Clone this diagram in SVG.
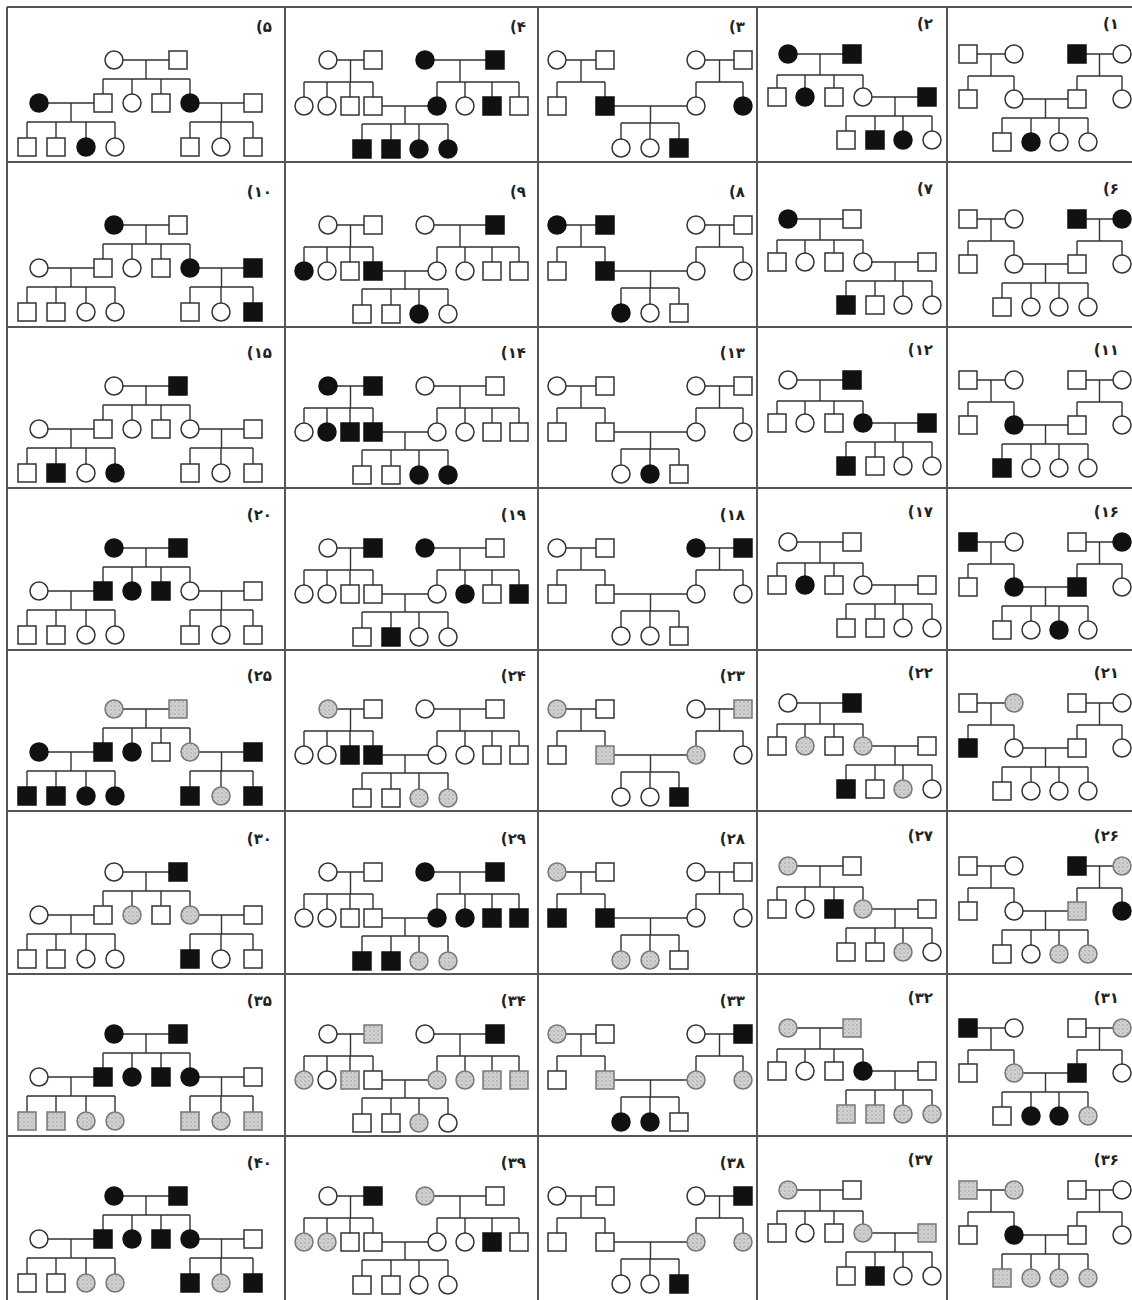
<svg xmlns="http://www.w3.org/2000/svg" width="1132" height="1300" viewBox="0 0 1132 1300">
<style>
.ln{fill:none;stroke:#333;stroke-width:1.4}
.grid{fill:none;stroke:#555;stroke-width:2}
.w{fill:#fff;stroke:#333;stroke-width:1.5}
.b{fill:#111;stroke:#111;stroke-width:1.5}
.g{fill:url(#stip);stroke:#777;stroke-width:1.5}
.lbl{font-family:"DejaVu Sans","Liberation Sans",sans-serif;font-weight:bold;font-size:15px;fill:#222;text-anchor:end}
</style>
<defs>
<pattern id="stip" width="4" height="4" patternUnits="userSpaceOnUse"><rect width="4" height="4" fill="#d2d2d2"/><circle cx="1" cy="1" r="0.7" fill="#8c8c8c"/><circle cx="3" cy="3" r="0.5" fill="#a0a0a0"/></pattern>
<circle id="c" r="9"/>
<rect id="s" x="-9" y="-9" width="18" height="18"/>
<path id="cA" d="M114,-102H178M146,-102V-83M103,-83H190M103,-83V-68M132,-83V-68M161,-83V-68M190,-83V-68M39,-59H103M71,-59V-40M27,-40H115M27,-40V-24M56,-40V-24M86,-40V-24M115,-40V-24M190,-59H253M221.5,-59V-40M190,-40H253M190,-40V-24M221,-40V-24M253,-40V-24"/>
<path id="cB" d="M328,-102H373M350.5,-102V-80M304,-80H373M304,-80V-65M327,-80V-65M350,-80V-65M373,-80V-65M425,-102H495M460,-102V-80M437,-80H519M437,-80V-65M465,-80V-65M492,-80V-65M519,-80V-65M373,-56H437M405,-56V-38M362,-38H448M362,-38V-22M391,-38V-22M419,-38V-22M448,-38V-22"/>
<path id="cC" d="M557,-102H605M581,-102V-80M557,-80H605M557,-80V-65M605,-80V-65M696,-102H743M719.5,-102V-80M696,-80H743M696,-80V-65M743,-80V-65M605,-56H696M650.5,-56V-39M621,-39H679M621,-39V-23M650,-39V-23M679,-39V-23"/>
<path id="cD" d="M788,-108H852M820,-108V-87M777,-87H863M777,-87V-74M805,-87V-74M834,-87V-74M863,-87V-74M863,-65H927M895,-65V-46M846,-46H932M846,-46V-31M875,-46V-31M903,-46V-31M932,-46V-31"/>
<path id="cE" d="M968,-108H1014M991,-108V-86M968,-86H1014M968,-86V-72M1014,-86V-72M1077,-108H1122M1099.5,-108V-86M1077,-86H1122M1077,-86V-72M1122,-86V-72M1014,-63H1077M1045.5,-63V-44M1002,-44H1088M1002,-44V-29M1031,-44V-29M1059,-44V-29M1088,-44V-29"/>
</defs>
<rect width="1132" height="1300" fill="#fff"/>
<g id="grid" class="grid">
<path d="M7,7V1300M285,7V1300M538,7V1300M757,7V1300M947,7V1300"/>
<path d="M7,7H1132M7,162H1132M7,327H1132M7,488H1132M7,650H1132M7,811H1132M7,974H1132M7,1136H1132"/>
</g>
<g id="connectors" class="ln">
<use href="#cA" y="162"/><use href="#cA" y="327"/><use href="#cA" y="488"/><use href="#cA" y="650"/><use href="#cA" y="811"/><use href="#cA" y="974"/><use href="#cA" y="1136"/><use href="#cA" y="1298"/>
<use href="#cB" y="162"/><use href="#cB" y="327"/><use href="#cB" y="488"/><use href="#cB" y="650"/><use href="#cB" y="811"/><use href="#cB" y="974"/><use href="#cB" y="1136"/><use href="#cB" y="1298"/>
<use href="#cC" y="162"/><use href="#cC" y="327"/><use href="#cC" y="488"/><use href="#cC" y="650"/><use href="#cC" y="811"/><use href="#cC" y="974"/><use href="#cC" y="1136"/><use href="#cC" y="1298"/>
<use href="#cD" y="162"/><use href="#cD" y="327"/><use href="#cD" y="488"/><use href="#cD" y="650"/><use href="#cD" y="811"/><use href="#cD" y="974"/><use href="#cD" y="1136"/><use href="#cD" y="1298"/>
<use href="#cE" y="162"/><use href="#cE" y="327"/><use href="#cE" y="488"/><use href="#cE" y="650"/><use href="#cE" y="811"/><use href="#cE" y="974"/><use href="#cE" y="1136"/><use href="#cE" y="1298"/>
</g>

<!-- Column 5: template A -->
<g id="p5" transform="translate(0,162)"><text class="lbl" x="272" y="-130">(۵</text>
<use href="#c" class="w" x="114" y="-102"/><use href="#s" class="w" x="178" y="-102"/>
<use href="#c" class="b" x="39" y="-59"/><use href="#s" class="w" x="103" y="-59"/><use href="#c" class="w" x="132" y="-59"/><use href="#s" class="w" x="161" y="-59"/><use href="#c" class="b" x="190" y="-59"/><use href="#s" class="w" x="253" y="-59"/>
<use href="#s" class="w" x="27" y="-15"/><use href="#s" class="w" x="56" y="-15"/><use href="#c" class="b" x="86" y="-15"/><use href="#c" class="w" x="115" y="-15"/>
<use href="#s" class="w" x="190" y="-15"/><use href="#c" class="w" x="221" y="-15"/><use href="#s" class="w" x="253" y="-15"/></g>

<g id="p10" transform="translate(0,327)"><text class="lbl" x="272" y="-130">(۱۰</text>
<use href="#c" class="b" x="114" y="-102"/><use href="#s" class="w" x="178" y="-102"/>
<use href="#c" class="w" x="39" y="-59"/><use href="#s" class="w" x="103" y="-59"/><use href="#c" class="w" x="132" y="-59"/><use href="#s" class="w" x="161" y="-59"/><use href="#c" class="b" x="190" y="-59"/><use href="#s" class="b" x="253" y="-59"/>
<use href="#s" class="w" x="27" y="-15"/><use href="#s" class="w" x="56" y="-15"/><use href="#c" class="w" x="86" y="-15"/><use href="#c" class="w" x="115" y="-15"/>
<use href="#s" class="w" x="190" y="-15"/><use href="#c" class="w" x="221" y="-15"/><use href="#s" class="b" x="253" y="-15"/></g>

<g id="p15" transform="translate(0,488)"><text class="lbl" x="272" y="-130">(۱۵</text>
<use href="#c" class="w" x="114" y="-102"/><use href="#s" class="b" x="178" y="-102"/>
<use href="#c" class="w" x="39" y="-59"/><use href="#s" class="w" x="103" y="-59"/><use href="#c" class="w" x="132" y="-59"/><use href="#s" class="w" x="161" y="-59"/><use href="#c" class="w" x="190" y="-59"/><use href="#s" class="w" x="253" y="-59"/>
<use href="#s" class="w" x="27" y="-15"/><use href="#s" class="b" x="56" y="-15"/><use href="#c" class="w" x="86" y="-15"/><use href="#c" class="b" x="115" y="-15"/>
<use href="#s" class="w" x="190" y="-15"/><use href="#c" class="w" x="221" y="-15"/><use href="#s" class="w" x="253" y="-15"/></g>

<g id="p20" transform="translate(0,650)"><text class="lbl" x="272" y="-130">(۲۰</text>
<use href="#c" class="b" x="114" y="-102"/><use href="#s" class="b" x="178" y="-102"/>
<use href="#c" class="w" x="39" y="-59"/><use href="#s" class="b" x="103" y="-59"/><use href="#c" class="b" x="132" y="-59"/><use href="#s" class="b" x="161" y="-59"/><use href="#c" class="w" x="190" y="-59"/><use href="#s" class="w" x="253" y="-59"/>
<use href="#s" class="w" x="27" y="-15"/><use href="#s" class="w" x="56" y="-15"/><use href="#c" class="w" x="86" y="-15"/><use href="#c" class="w" x="115" y="-15"/>
<use href="#s" class="w" x="190" y="-15"/><use href="#c" class="w" x="221" y="-15"/><use href="#s" class="w" x="253" y="-15"/></g>

<g id="p25" transform="translate(0,811)"><text class="lbl" x="272" y="-130">(۲۵</text>
<use href="#c" class="g" x="114" y="-102"/><use href="#s" class="g" x="178" y="-102"/>
<use href="#c" class="b" x="39" y="-59"/><use href="#s" class="b" x="103" y="-59"/><use href="#c" class="b" x="132" y="-59"/><use href="#s" class="w" x="161" y="-59"/><use href="#c" class="g" x="190" y="-59"/><use href="#s" class="b" x="253" y="-59"/>
<use href="#s" class="b" x="27" y="-15"/><use href="#s" class="b" x="56" y="-15"/><use href="#c" class="b" x="86" y="-15"/><use href="#c" class="b" x="115" y="-15"/>
<use href="#s" class="b" x="190" y="-15"/><use href="#c" class="g" x="221" y="-15"/><use href="#s" class="b" x="253" y="-15"/></g>

<g id="p30" transform="translate(0,974)"><text class="lbl" x="272" y="-130">(۳۰</text>
<use href="#c" class="w" x="114" y="-102"/><use href="#s" class="b" x="178" y="-102"/>
<use href="#c" class="w" x="39" y="-59"/><use href="#s" class="w" x="103" y="-59"/><use href="#c" class="g" x="132" y="-59"/><use href="#s" class="w" x="161" y="-59"/><use href="#c" class="g" x="190" y="-59"/><use href="#s" class="w" x="253" y="-59"/>
<use href="#s" class="w" x="27" y="-15"/><use href="#s" class="w" x="56" y="-15"/><use href="#c" class="w" x="86" y="-15"/><use href="#c" class="w" x="115" y="-15"/>
<use href="#s" class="b" x="190" y="-15"/><use href="#c" class="w" x="221" y="-15"/><use href="#s" class="w" x="253" y="-15"/></g>

<g id="p35" transform="translate(0,1136)"><text class="lbl" x="272" y="-130">(۳۵</text>
<use href="#c" class="b" x="114" y="-102"/><use href="#s" class="b" x="178" y="-102"/>
<use href="#c" class="w" x="39" y="-59"/><use href="#s" class="b" x="103" y="-59"/><use href="#c" class="b" x="132" y="-59"/><use href="#s" class="b" x="161" y="-59"/><use href="#c" class="b" x="190" y="-59"/><use href="#s" class="w" x="253" y="-59"/>
<use href="#s" class="g" x="27" y="-15"/><use href="#s" class="g" x="56" y="-15"/><use href="#c" class="g" x="86" y="-15"/><use href="#c" class="g" x="115" y="-15"/>
<use href="#s" class="g" x="190" y="-15"/><use href="#c" class="g" x="221" y="-15"/><use href="#s" class="g" x="253" y="-15"/></g>

<g id="p40" transform="translate(0,1298)"><text class="lbl" x="272" y="-130">(۴۰</text>
<use href="#c" class="b" x="114" y="-102"/><use href="#s" class="b" x="178" y="-102"/>
<use href="#c" class="w" x="39" y="-59"/><use href="#s" class="b" x="103" y="-59"/><use href="#c" class="b" x="132" y="-59"/><use href="#s" class="b" x="161" y="-59"/><use href="#c" class="b" x="190" y="-59"/><use href="#s" class="w" x="253" y="-59"/>
<use href="#s" class="w" x="27" y="-15"/><use href="#s" class="w" x="56" y="-15"/><use href="#c" class="g" x="86" y="-15"/><use href="#c" class="g" x="115" y="-15"/>
<use href="#s" class="b" x="190" y="-15"/><use href="#c" class="g" x="221" y="-15"/><use href="#s" class="b" x="253" y="-15"/></g>

<!-- Column 4: template B -->
<g id="p4" transform="translate(0,162)"><text class="lbl" x="526" y="-130">(۴</text>
<use href="#c" class="w" x="328" y="-102"/><use href="#s" class="w" x="373" y="-102"/><use href="#c" class="b" x="425" y="-102"/><use href="#s" class="b" x="495" y="-102"/>
<use href="#c" class="w" x="304" y="-56"/><use href="#c" class="w" x="327" y="-56"/><use href="#s" class="w" x="350" y="-56"/><use href="#s" class="w" x="373" y="-56"/>
<use href="#c" class="b" x="437" y="-56"/><use href="#c" class="w" x="465" y="-56"/><use href="#s" class="b" x="492" y="-56"/><use href="#s" class="w" x="519" y="-56"/>
<use href="#s" class="b" x="362" y="-13"/><use href="#s" class="b" x="391" y="-13"/><use href="#c" class="b" x="419" y="-13"/><use href="#c" class="b" x="448" y="-13"/></g>

<g id="p9" transform="translate(0,327)"><text class="lbl" x="526" y="-130">(۹</text>
<use href="#c" class="w" x="328" y="-102"/><use href="#s" class="w" x="373" y="-102"/><use href="#c" class="w" x="425" y="-102"/><use href="#s" class="b" x="495" y="-102"/>
<use href="#c" class="b" x="304" y="-56"/><use href="#c" class="w" x="327" y="-56"/><use href="#s" class="w" x="350" y="-56"/><use href="#s" class="b" x="373" y="-56"/>
<use href="#c" class="w" x="437" y="-56"/><use href="#c" class="w" x="465" y="-56"/><use href="#s" class="w" x="492" y="-56"/><use href="#s" class="w" x="519" y="-56"/>
<use href="#s" class="w" x="362" y="-13"/><use href="#s" class="w" x="391" y="-13"/><use href="#c" class="b" x="419" y="-13"/><use href="#c" class="w" x="448" y="-13"/></g>

<g id="p14" transform="translate(0,488)"><text class="lbl" x="526" y="-130">(۱۴</text>
<use href="#c" class="b" x="328" y="-102"/><use href="#s" class="b" x="373" y="-102"/><use href="#c" class="w" x="425" y="-102"/><use href="#s" class="w" x="495" y="-102"/>
<use href="#c" class="w" x="304" y="-56"/><use href="#c" class="b" x="327" y="-56"/><use href="#s" class="b" x="350" y="-56"/><use href="#s" class="b" x="373" y="-56"/>
<use href="#c" class="w" x="437" y="-56"/><use href="#c" class="w" x="465" y="-56"/><use href="#s" class="w" x="492" y="-56"/><use href="#s" class="w" x="519" y="-56"/>
<use href="#s" class="w" x="362" y="-13"/><use href="#s" class="w" x="391" y="-13"/><use href="#c" class="b" x="419" y="-13"/><use href="#c" class="b" x="448" y="-13"/></g>

<g id="p19" transform="translate(0,650)"><text class="lbl" x="526" y="-130">(۱۹</text>
<use href="#c" class="w" x="328" y="-102"/><use href="#s" class="b" x="373" y="-102"/><use href="#c" class="b" x="425" y="-102"/><use href="#s" class="w" x="495" y="-102"/>
<use href="#c" class="w" x="304" y="-56"/><use href="#c" class="w" x="327" y="-56"/><use href="#s" class="w" x="350" y="-56"/><use href="#s" class="w" x="373" y="-56"/>
<use href="#c" class="w" x="437" y="-56"/><use href="#c" class="b" x="465" y="-56"/><use href="#s" class="w" x="492" y="-56"/><use href="#s" class="b" x="519" y="-56"/>
<use href="#s" class="w" x="362" y="-13"/><use href="#s" class="b" x="391" y="-13"/><use href="#c" class="w" x="419" y="-13"/><use href="#c" class="w" x="448" y="-13"/></g>

<g id="p24" transform="translate(0,811)"><text class="lbl" x="526" y="-130">(۲۴</text>
<use href="#c" class="g" x="328" y="-102"/><use href="#s" class="w" x="373" y="-102"/><use href="#c" class="w" x="425" y="-102"/><use href="#s" class="w" x="495" y="-102"/>
<use href="#c" class="w" x="304" y="-56"/><use href="#c" class="w" x="327" y="-56"/><use href="#s" class="b" x="350" y="-56"/><use href="#s" class="b" x="373" y="-56"/>
<use href="#c" class="w" x="437" y="-56"/><use href="#c" class="w" x="465" y="-56"/><use href="#s" class="w" x="492" y="-56"/><use href="#s" class="w" x="519" y="-56"/>
<use href="#s" class="w" x="362" y="-13"/><use href="#s" class="w" x="391" y="-13"/><use href="#c" class="g" x="419" y="-13"/><use href="#c" class="g" x="448" y="-13"/></g>

<g id="p29" transform="translate(0,974)"><text class="lbl" x="526" y="-130">(۲۹</text>
<use href="#c" class="w" x="328" y="-102"/><use href="#s" class="w" x="373" y="-102"/><use href="#c" class="b" x="425" y="-102"/><use href="#s" class="b" x="495" y="-102"/>
<use href="#c" class="w" x="304" y="-56"/><use href="#c" class="w" x="327" y="-56"/><use href="#s" class="w" x="350" y="-56"/><use href="#s" class="w" x="373" y="-56"/>
<use href="#c" class="b" x="437" y="-56"/><use href="#c" class="b" x="465" y="-56"/><use href="#s" class="b" x="492" y="-56"/><use href="#s" class="b" x="519" y="-56"/>
<use href="#s" class="b" x="362" y="-13"/><use href="#s" class="b" x="391" y="-13"/><use href="#c" class="g" x="419" y="-13"/><use href="#c" class="g" x="448" y="-13"/></g>

<g id="p34" transform="translate(0,1136)"><text class="lbl" x="526" y="-130">(۳۴</text>
<use href="#c" class="w" x="328" y="-102"/><use href="#s" class="g" x="373" y="-102"/><use href="#c" class="w" x="425" y="-102"/><use href="#s" class="b" x="495" y="-102"/>
<use href="#c" class="g" x="304" y="-56"/><use href="#c" class="w" x="327" y="-56"/><use href="#s" class="g" x="350" y="-56"/><use href="#s" class="w" x="373" y="-56"/>
<use href="#c" class="g" x="437" y="-56"/><use href="#c" class="g" x="465" y="-56"/><use href="#s" class="g" x="492" y="-56"/><use href="#s" class="g" x="519" y="-56"/>
<use href="#s" class="w" x="362" y="-13"/><use href="#s" class="w" x="391" y="-13"/><use href="#c" class="g" x="419" y="-13"/><use href="#c" class="w" x="448" y="-13"/></g>

<g id="p39" transform="translate(0,1298)"><text class="lbl" x="526" y="-130">(۳۹</text>
<use href="#c" class="w" x="328" y="-102"/><use href="#s" class="b" x="373" y="-102"/><use href="#c" class="g" x="425" y="-102"/><use href="#s" class="w" x="495" y="-102"/>
<use href="#c" class="g" x="304" y="-56"/><use href="#c" class="g" x="327" y="-56"/><use href="#s" class="w" x="350" y="-56"/><use href="#s" class="w" x="373" y="-56"/>
<use href="#c" class="w" x="437" y="-56"/><use href="#c" class="w" x="465" y="-56"/><use href="#s" class="b" x="492" y="-56"/><use href="#s" class="w" x="519" y="-56"/>
<use href="#s" class="w" x="362" y="-13"/><use href="#s" class="w" x="391" y="-13"/><use href="#c" class="w" x="419" y="-13"/><use href="#c" class="w" x="448" y="-13"/></g>

<!-- Column 3: template C -->
<g id="p3" transform="translate(0,162)"><text class="lbl" x="745" y="-130">(۳</text>
<use href="#c" class="w" x="557" y="-102"/><use href="#s" class="w" x="605" y="-102"/><use href="#c" class="w" x="696" y="-102"/><use href="#s" class="w" x="743" y="-102"/>
<use href="#s" class="w" x="557" y="-56"/><use href="#s" class="b" x="605" y="-56"/><use href="#c" class="w" x="696" y="-56"/><use href="#c" class="b" x="743" y="-56"/>
<use href="#c" class="w" x="621" y="-14"/><use href="#c" class="w" x="650" y="-14"/><use href="#s" class="b" x="679" y="-14"/></g>

<g id="p8" transform="translate(0,327)"><text class="lbl" x="745" y="-130">(۸</text>
<use href="#c" class="b" x="557" y="-102"/><use href="#s" class="b" x="605" y="-102"/><use href="#c" class="w" x="696" y="-102"/><use href="#s" class="w" x="743" y="-102"/>
<use href="#s" class="w" x="557" y="-56"/><use href="#s" class="b" x="605" y="-56"/><use href="#c" class="w" x="696" y="-56"/><use href="#c" class="w" x="743" y="-56"/>
<use href="#c" class="b" x="621" y="-14"/><use href="#c" class="w" x="650" y="-14"/><use href="#s" class="w" x="679" y="-14"/></g>

<g id="p13" transform="translate(0,488)"><text class="lbl" x="745" y="-130">(۱۳</text>
<use href="#c" class="w" x="557" y="-102"/><use href="#s" class="w" x="605" y="-102"/><use href="#c" class="w" x="696" y="-102"/><use href="#s" class="w" x="743" y="-102"/>
<use href="#s" class="w" x="557" y="-56"/><use href="#s" class="w" x="605" y="-56"/><use href="#c" class="w" x="696" y="-56"/><use href="#c" class="w" x="743" y="-56"/>
<use href="#c" class="w" x="621" y="-14"/><use href="#c" class="b" x="650" y="-14"/><use href="#s" class="w" x="679" y="-14"/></g>

<g id="p18" transform="translate(0,650)"><text class="lbl" x="745" y="-130">(۱۸</text>
<use href="#c" class="w" x="557" y="-102"/><use href="#s" class="w" x="605" y="-102"/><use href="#c" class="b" x="696" y="-102"/><use href="#s" class="b" x="743" y="-102"/>
<use href="#s" class="w" x="557" y="-56"/><use href="#s" class="w" x="605" y="-56"/><use href="#c" class="w" x="696" y="-56"/><use href="#c" class="w" x="743" y="-56"/>
<use href="#c" class="w" x="621" y="-14"/><use href="#c" class="w" x="650" y="-14"/><use href="#s" class="w" x="679" y="-14"/></g>

<g id="p23" transform="translate(0,811)"><text class="lbl" x="745" y="-130">(۲۳</text>
<use href="#c" class="g" x="557" y="-102"/><use href="#s" class="w" x="605" y="-102"/><use href="#c" class="w" x="696" y="-102"/><use href="#s" class="g" x="743" y="-102"/>
<use href="#s" class="w" x="557" y="-56"/><use href="#s" class="g" x="605" y="-56"/><use href="#c" class="g" x="696" y="-56"/><use href="#c" class="w" x="743" y="-56"/>
<use href="#c" class="w" x="621" y="-14"/><use href="#c" class="w" x="650" y="-14"/><use href="#s" class="b" x="679" y="-14"/></g>

<g id="p28" transform="translate(0,974)"><text class="lbl" x="745" y="-130">(۲۸</text>
<use href="#c" class="g" x="557" y="-102"/><use href="#s" class="w" x="605" y="-102"/><use href="#c" class="w" x="696" y="-102"/><use href="#s" class="w" x="743" y="-102"/>
<use href="#s" class="b" x="557" y="-56"/><use href="#s" class="b" x="605" y="-56"/><use href="#c" class="w" x="696" y="-56"/><use href="#c" class="w" x="743" y="-56"/>
<use href="#c" class="g" x="621" y="-14"/><use href="#c" class="g" x="650" y="-14"/><use href="#s" class="w" x="679" y="-14"/></g>

<g id="p33" transform="translate(0,1136)"><text class="lbl" x="745" y="-130">(۳۳</text>
<use href="#c" class="g" x="557" y="-102"/><use href="#s" class="w" x="605" y="-102"/><use href="#c" class="w" x="696" y="-102"/><use href="#s" class="b" x="743" y="-102"/>
<use href="#s" class="w" x="557" y="-56"/><use href="#s" class="g" x="605" y="-56"/><use href="#c" class="g" x="696" y="-56"/><use href="#c" class="g" x="743" y="-56"/>
<use href="#c" class="b" x="621" y="-14"/><use href="#c" class="b" x="650" y="-14"/><use href="#s" class="w" x="679" y="-14"/></g>

<g id="p38" transform="translate(0,1298)"><text class="lbl" x="745" y="-130">(۳۸</text>
<use href="#c" class="w" x="557" y="-102"/><use href="#s" class="w" x="605" y="-102"/><use href="#c" class="w" x="696" y="-102"/><use href="#s" class="b" x="743" y="-102"/>
<use href="#s" class="w" x="557" y="-56"/><use href="#s" class="w" x="605" y="-56"/><use href="#c" class="g" x="696" y="-56"/><use href="#c" class="g" x="743" y="-56"/>
<use href="#c" class="w" x="621" y="-14"/><use href="#c" class="w" x="650" y="-14"/><use href="#s" class="b" x="679" y="-14"/></g>

<!-- Column 2: template D -->
<g id="p2" transform="translate(0,162)"><text class="lbl" x="933" y="-133">(۲</text>
<use href="#c" class="b" x="788" y="-108"/><use href="#s" class="b" x="852" y="-108"/>
<use href="#s" class="w" x="777" y="-65"/><use href="#c" class="b" x="805" y="-65"/><use href="#s" class="w" x="834" y="-65"/><use href="#c" class="w" x="863" y="-65"/><use href="#s" class="b" x="927" y="-65"/>
<use href="#s" class="w" x="846" y="-22"/><use href="#s" class="b" x="875" y="-22"/><use href="#c" class="b" x="903" y="-22"/><use href="#c" class="w" x="932" y="-22"/></g>

<g id="p7" transform="translate(0,327)"><text class="lbl" x="933" y="-133">(۷</text>
<use href="#c" class="b" x="788" y="-108"/><use href="#s" class="w" x="852" y="-108"/>
<use href="#s" class="w" x="777" y="-65"/><use href="#c" class="w" x="805" y="-65"/><use href="#s" class="w" x="834" y="-65"/><use href="#c" class="w" x="863" y="-65"/><use href="#s" class="w" x="927" y="-65"/>
<use href="#s" class="b" x="846" y="-22"/><use href="#s" class="w" x="875" y="-22"/><use href="#c" class="w" x="903" y="-22"/><use href="#c" class="w" x="932" y="-22"/></g>

<g id="p12" transform="translate(0,488)"><text class="lbl" x="933" y="-133">(۱۲</text>
<use href="#c" class="w" x="788" y="-108"/><use href="#s" class="b" x="852" y="-108"/>
<use href="#s" class="w" x="777" y="-65"/><use href="#c" class="w" x="805" y="-65"/><use href="#s" class="w" x="834" y="-65"/><use href="#c" class="b" x="863" y="-65"/><use href="#s" class="b" x="927" y="-65"/>
<use href="#s" class="b" x="846" y="-22"/><use href="#s" class="w" x="875" y="-22"/><use href="#c" class="w" x="903" y="-22"/><use href="#c" class="w" x="932" y="-22"/></g>

<g id="p17" transform="translate(0,650)"><text class="lbl" x="933" y="-133">(۱۷</text>
<use href="#c" class="w" x="788" y="-108"/><use href="#s" class="w" x="852" y="-108"/>
<use href="#s" class="w" x="777" y="-65"/><use href="#c" class="b" x="805" y="-65"/><use href="#s" class="w" x="834" y="-65"/><use href="#c" class="w" x="863" y="-65"/><use href="#s" class="w" x="927" y="-65"/>
<use href="#s" class="w" x="846" y="-22"/><use href="#s" class="w" x="875" y="-22"/><use href="#c" class="w" x="903" y="-22"/><use href="#c" class="w" x="932" y="-22"/></g>

<g id="p22" transform="translate(0,811)"><text class="lbl" x="933" y="-133">(۲۲</text>
<use href="#c" class="w" x="788" y="-108"/><use href="#s" class="b" x="852" y="-108"/>
<use href="#s" class="w" x="777" y="-65"/><use href="#c" class="g" x="805" y="-65"/><use href="#s" class="w" x="834" y="-65"/><use href="#c" class="g" x="863" y="-65"/><use href="#s" class="w" x="927" y="-65"/>
<use href="#s" class="b" x="846" y="-22"/><use href="#s" class="w" x="875" y="-22"/><use href="#c" class="g" x="903" y="-22"/><use href="#c" class="w" x="932" y="-22"/></g>

<g id="p27" transform="translate(0,974)"><text class="lbl" x="933" y="-133">(۲۷</text>
<use href="#c" class="g" x="788" y="-108"/><use href="#s" class="w" x="852" y="-108"/>
<use href="#s" class="w" x="777" y="-65"/><use href="#c" class="w" x="805" y="-65"/><use href="#s" class="b" x="834" y="-65"/><use href="#c" class="g" x="863" y="-65"/><use href="#s" class="w" x="927" y="-65"/>
<use href="#s" class="w" x="846" y="-22"/><use href="#s" class="w" x="875" y="-22"/><use href="#c" class="g" x="903" y="-22"/><use href="#c" class="w" x="932" y="-22"/></g>

<g id="p32" transform="translate(0,1136)"><text class="lbl" x="933" y="-133">(۳۲</text>
<use href="#c" class="g" x="788" y="-108"/><use href="#s" class="g" x="852" y="-108"/>
<use href="#s" class="w" x="777" y="-65"/><use href="#c" class="w" x="805" y="-65"/><use href="#s" class="w" x="834" y="-65"/><use href="#c" class="b" x="863" y="-65"/><use href="#s" class="w" x="927" y="-65"/>
<use href="#s" class="g" x="846" y="-22"/><use href="#s" class="g" x="875" y="-22"/><use href="#c" class="g" x="903" y="-22"/><use href="#c" class="g" x="932" y="-22"/></g>

<g id="p37" transform="translate(0,1298)"><text class="lbl" x="933" y="-133">(۳۷</text>
<use href="#c" class="g" x="788" y="-108"/><use href="#s" class="w" x="852" y="-108"/>
<use href="#s" class="w" x="777" y="-65"/><use href="#c" class="w" x="805" y="-65"/><use href="#s" class="w" x="834" y="-65"/><use href="#c" class="g" x="863" y="-65"/><use href="#s" class="g" x="927" y="-65"/>
<use href="#s" class="w" x="846" y="-22"/><use href="#s" class="b" x="875" y="-22"/><use href="#c" class="w" x="903" y="-22"/><use href="#c" class="w" x="932" y="-22"/></g>

<!-- Column 1: template E -->
<g id="p1" transform="translate(0,162)"><text class="lbl" x="1119" y="-133">(۱</text>
<use href="#s" class="w" x="968" y="-108"/><use href="#c" class="w" x="1014" y="-108"/><use href="#s" class="b" x="1077" y="-108"/><use href="#c" class="w" x="1122" y="-108"/>
<use href="#s" class="w" x="968" y="-63"/><use href="#c" class="w" x="1014" y="-63"/><use href="#s" class="w" x="1077" y="-63"/><use href="#c" class="w" x="1122" y="-63"/>
<use href="#s" class="w" x="1002" y="-20"/><use href="#c" class="b" x="1031" y="-20"/><use href="#c" class="w" x="1059" y="-20"/><use href="#c" class="w" x="1088" y="-20"/></g>

<g id="p6" transform="translate(0,327)"><text class="lbl" x="1119" y="-133">(۶</text>
<use href="#s" class="w" x="968" y="-108"/><use href="#c" class="w" x="1014" y="-108"/><use href="#s" class="b" x="1077" y="-108"/><use href="#c" class="b" x="1122" y="-108"/>
<use href="#s" class="w" x="968" y="-63"/><use href="#c" class="w" x="1014" y="-63"/><use href="#s" class="w" x="1077" y="-63"/><use href="#c" class="w" x="1122" y="-63"/>
<use href="#s" class="w" x="1002" y="-20"/><use href="#c" class="w" x="1031" y="-20"/><use href="#c" class="w" x="1059" y="-20"/><use href="#c" class="w" x="1088" y="-20"/></g>

<g id="p11" transform="translate(0,488)"><text class="lbl" x="1119" y="-133">(۱۱</text>
<use href="#s" class="w" x="968" y="-108"/><use href="#c" class="w" x="1014" y="-108"/><use href="#s" class="w" x="1077" y="-108"/><use href="#c" class="w" x="1122" y="-108"/>
<use href="#s" class="w" x="968" y="-63"/><use href="#c" class="b" x="1014" y="-63"/><use href="#s" class="w" x="1077" y="-63"/><use href="#c" class="w" x="1122" y="-63"/>
<use href="#s" class="b" x="1002" y="-20"/><use href="#c" class="w" x="1031" y="-20"/><use href="#c" class="w" x="1059" y="-20"/><use href="#c" class="w" x="1088" y="-20"/></g>

<g id="p16" transform="translate(0,650)"><text class="lbl" x="1119" y="-133">(۱۶</text>
<use href="#s" class="b" x="968" y="-108"/><use href="#c" class="w" x="1014" y="-108"/><use href="#s" class="w" x="1077" y="-108"/><use href="#c" class="b" x="1122" y="-108"/>
<use href="#s" class="w" x="968" y="-63"/><use href="#c" class="b" x="1014" y="-63"/><use href="#s" class="b" x="1077" y="-63"/><use href="#c" class="w" x="1122" y="-63"/>
<use href="#s" class="w" x="1002" y="-20"/><use href="#c" class="w" x="1031" y="-20"/><use href="#c" class="b" x="1059" y="-20"/><use href="#c" class="w" x="1088" y="-20"/></g>

<g id="p21" transform="translate(0,811)"><text class="lbl" x="1119" y="-133">(۲۱</text>
<use href="#s" class="w" x="968" y="-108"/><use href="#c" class="g" x="1014" y="-108"/><use href="#s" class="w" x="1077" y="-108"/><use href="#c" class="w" x="1122" y="-108"/>
<use href="#s" class="b" x="968" y="-63"/><use href="#c" class="w" x="1014" y="-63"/><use href="#s" class="w" x="1077" y="-63"/><use href="#c" class="w" x="1122" y="-63"/>
<use href="#s" class="w" x="1002" y="-20"/><use href="#c" class="w" x="1031" y="-20"/><use href="#c" class="w" x="1059" y="-20"/><use href="#c" class="w" x="1088" y="-20"/></g>

<g id="p26" transform="translate(0,974)"><text class="lbl" x="1119" y="-133">(۲۶</text>
<use href="#s" class="w" x="968" y="-108"/><use href="#c" class="w" x="1014" y="-108"/><use href="#s" class="b" x="1077" y="-108"/><use href="#c" class="g" x="1122" y="-108"/>
<use href="#s" class="w" x="968" y="-63"/><use href="#c" class="w" x="1014" y="-63"/><use href="#s" class="g" x="1077" y="-63"/><use href="#c" class="b" x="1122" y="-63"/>
<use href="#s" class="w" x="1002" y="-20"/><use href="#c" class="w" x="1031" y="-20"/><use href="#c" class="g" x="1059" y="-20"/><use href="#c" class="g" x="1088" y="-20"/></g>

<g id="p31" transform="translate(0,1136)"><text class="lbl" x="1119" y="-133">(۳۱</text>
<use href="#s" class="b" x="968" y="-108"/><use href="#c" class="w" x="1014" y="-108"/><use href="#s" class="w" x="1077" y="-108"/><use href="#c" class="g" x="1122" y="-108"/>
<use href="#s" class="w" x="968" y="-63"/><use href="#c" class="g" x="1014" y="-63"/><use href="#s" class="b" x="1077" y="-63"/><use href="#c" class="w" x="1122" y="-63"/>
<use href="#s" class="w" x="1002" y="-20"/><use href="#c" class="b" x="1031" y="-20"/><use href="#c" class="b" x="1059" y="-20"/><use href="#c" class="g" x="1088" y="-20"/></g>

<g id="p36" transform="translate(0,1298)"><text class="lbl" x="1119" y="-133">(۳۶</text>
<use href="#s" class="g" x="968" y="-108"/><use href="#c" class="g" x="1014" y="-108"/><use href="#s" class="w" x="1077" y="-108"/><use href="#c" class="w" x="1122" y="-108"/>
<use href="#s" class="w" x="968" y="-63"/><use href="#c" class="b" x="1014" y="-63"/><use href="#s" class="w" x="1077" y="-63"/><use href="#c" class="w" x="1122" y="-63"/>
<use href="#s" class="g" x="1002" y="-20"/><use href="#c" class="g" x="1031" y="-20"/><use href="#c" class="g" x="1059" y="-20"/><use href="#c" class="g" x="1088" y="-20"/></g>
</svg>
